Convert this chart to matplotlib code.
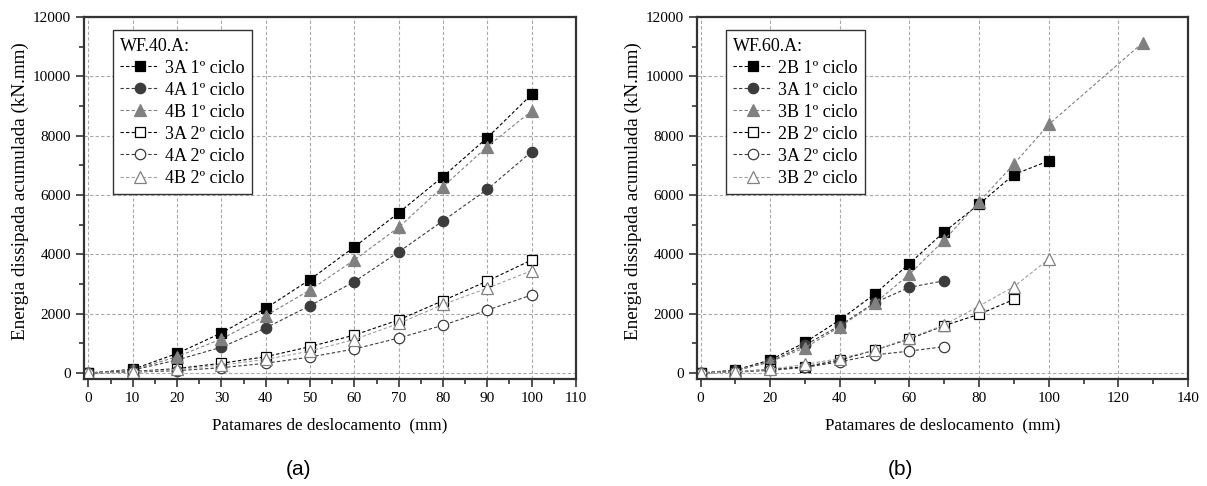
import matplotlib
matplotlib.use('Agg')
import matplotlib.pyplot as plt
from matplotlib.ticker import MultipleLocator

# Dados - WF.40.A
x40 = [0, 10, 20, 30, 40, 50, 60, 70, 80, 90, 100]
a3_c1 = [0, 125, 660, 1350, 2180, 3150, 4250, 5400, 6620, 7930, 9390]
a4_c1 = [0, 100, 440, 870, 1520, 2270, 3080, 4080, 5130, 6190, 7460]
b4_c1 = [0, 110, 550, 1150, 1930, 2800, 3810, 4910, 6280, 7630, 8830]
a3_c2 = [0, 50, 150, 330, 550, 890, 1280, 1790, 2440, 3100, 3810]
a4_c2 = [0, 30, 80, 180, 330, 540, 810, 1180, 1610, 2120, 2630]
b4_c2 = [0, 40, 120, 270, 460, 740, 1130, 1670, 2310, 2860, 3450]

# Dados - WF.60.A
x_2b = [0, 10, 20, 30, 40, 50, 60, 70, 80, 90, 100]
b2_c1 = [0, 100, 440, 1030, 1790, 2660, 3690, 4760, 5690, 6690, 7150]
x_3a = [0, 10, 20, 30, 40, 50, 60, 70]
a3b_c1 = [0, 80, 380, 940, 1600, 2370, 2890, 3110]
x_3b = [0, 10, 20, 30, 40, 50, 60, 70, 80, 90, 100, 127]
b3_c1 = [0, 90, 380, 850, 1560, 2350, 3330, 4480, 5770, 7040, 8380, 11130]
x_2b2 = [0, 10, 20, 30, 40, 50, 60, 70, 80, 90]
b2_c2 = [0, 40, 125, 210, 440, 770, 1150, 1600, 1980, 2480]
a3b_c2 = [0, 30, 90, 190, 380, 610, 740, 890]
x_3b2 = [0, 10, 20, 30, 40, 50, 60, 70, 80, 90, 100]
b3_c2 = [0, 40, 125, 290, 490, 770, 1180, 1620, 2260, 2910, 3840]

plt.rcParams['font.family'] = ['Liberation Serif', 'DejaVu Serif']

preto = '#000000'
escuro = '#3c3c3c'
cinza = '#808080'
claro = '#a0a0a0'
ls = (0, (3, 2))


def estilo(ax, xmax, xmaj, xmin_step):
    ax.set_xlim(-1, xmax)
    ax.set_ylim(-200, 12000)
    ax.xaxis.set_major_locator(MultipleLocator(xmaj))
    ax.xaxis.set_minor_locator(MultipleLocator(xmin_step))
    ax.yaxis.set_major_locator(MultipleLocator(2000))
    ax.yaxis.set_minor_locator(MultipleLocator(1000))
    ax.grid(True, which='major', color='#a8a8a8', linestyle=(0, (3, 2)), linewidth=0.8)
    ax.set_axisbelow(True)
    for s in ax.spines.values():
        s.set_linewidth(1.6)
        s.set_color('#333333')
    ax.tick_params(which='major', direction='out', length=6, width=1.2, labelsize=11, colors='#333333', labelcolor='black')
    ax.tick_params(which='minor', direction='out', length=3.5, width=1.2, colors='#333333')
    ax.set_xlabel('Patamares de deslocamento  (mm)', fontsize=12.3, labelpad=9)
    ax.set_ylabel('Energia dissipada acumulada (kN.mm)', fontsize=13.8)
    ax.yaxis.set_label_coords(-0.112, 0.52)


def serie(ax, x, y, marker, cor, cheio, label, linha):
    ax.plot(x, y, linestyle=ls, color=linha, linewidth=0.8, marker=marker,
            markersize=7.5 if marker != '^' else 8.5,
            markerfacecolor=cor if cheio else 'white', markeredgecolor=cor,
            markeredgewidth=0.9, label=label)


fig = plt.figure(figsize=(12.07, 4.86), dpi=100)
ax1 = fig.add_axes([0.0696, 0.2202, 0.4076, 0.745])
ax2 = fig.add_axes([0.5775, 0.2202, 0.4068, 0.745])

serie(ax1, x40, a3_c1, 's', preto, True, '3A 1º ciclo', preto)
serie(ax1, x40, a4_c1, 'o', escuro, True, '4A 1º ciclo', escuro)
serie(ax1, x40, b4_c1, '^', cinza, True, '4B 1º ciclo', cinza)
serie(ax1, x40, a3_c2, 's', preto, False, '3A 2º ciclo', preto)
serie(ax1, x40, a4_c2, 'o', escuro, False, '4A 2º ciclo', escuro)
serie(ax1, x40, b4_c2, '^', cinza, False, '4B 2º ciclo', claro)
estilo(ax1, 110, 10, 5)

serie(ax2, x_2b, b2_c1, 's', preto, True, '2B 1º ciclo', preto)
serie(ax2, x_3a, a3b_c1, 'o', escuro, True, '3A 1º ciclo', escuro)
serie(ax2, x_3b, b3_c1, '^', cinza, True, '3B 1º ciclo', cinza)
serie(ax2, x_2b2, b2_c2, 's', preto, False, '2B 2º ciclo', preto)
serie(ax2, x_3a, a3b_c2, 'o', escuro, False, '3A 2º ciclo', escuro)
serie(ax2, x_3b2, b3_c2, '^', cinza, False, '3B 2º ciclo', claro)
estilo(ax2, 140, 20, 10)

for ax, titulo in [(ax1, 'WF.40.A:'), (ax2, 'WF.60.A:')]:
    leg = ax.legend(title=titulo, loc='upper left', bbox_to_anchor=(0.058, 0.963),
                    fontsize=13, title_fontsize=13, frameon=True, fancybox=False,
                    edgecolor='#333333', handlelength=2.2, handletextpad=0.3,
                    labelspacing=0.28, borderpad=0.4, borderaxespad=0,
                    alignment='left')
    leg.get_frame().set_linewidth(1.0)
    leg.get_frame().set_alpha(1)

fig.text(0.247, 0.033, '(a)', fontsize=15, family='Liberation Sans', ha='center', va='center')
fig.text(0.746, 0.033, '(b)', fontsize=15, family='Liberation Sans', ha='center', va='center')

fig.savefig('out.png', dpi=100)
